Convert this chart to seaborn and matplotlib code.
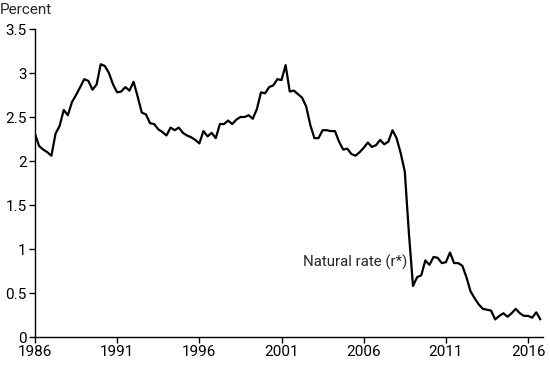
import numpy as np
import pandas as pd
import matplotlib
matplotlib.use("Agg")
import matplotlib.pyplot as plt
import seaborn as sns

# quarterly natural rate estimates, 1986Q1 - 2016Q4
years = list(range(1986, 2017))
rstar = [
    2.31, 2.17, 2.13, 2.10,   # 1986
    2.06, 2.31, 2.40, 2.58,   # 1987
    2.52, 2.67, 2.75, 2.84,   # 1988
    2.93, 2.91, 2.81, 2.87,   # 1989
    3.10, 3.08, 3.00, 2.87,   # 1990
    2.78, 2.79, 2.84, 2.80,   # 1991
    2.90, 2.73, 2.55, 2.53,   # 1992
    2.43, 2.42, 2.36, 2.33,   # 1993
    2.29, 2.38, 2.35, 2.38,   # 1994
    2.32, 2.29, 2.27, 2.24,   # 1995
    2.20, 2.34, 2.28, 2.32,   # 1996
    2.26, 2.42, 2.42, 2.46,   # 1997
    2.42, 2.47, 2.50, 2.50,   # 1998
    2.52, 2.48, 2.59, 2.78,   # 1999
    2.77, 2.84, 2.86, 2.93,   # 2000
    2.92, 3.09, 2.79, 2.80,   # 2001
    2.76, 2.72, 2.62, 2.41,   # 2002
    2.26, 2.26, 2.35, 2.35,   # 2003
    2.34, 2.34, 2.22, 2.13,   # 2004
    2.14, 2.08, 2.06, 2.10,   # 2005
    2.15, 2.21, 2.16, 2.18,   # 2006
    2.24, 2.19, 2.22, 2.35,   # 2007
    2.26, 2.09, 1.88, 1.18,   # 2008
    0.58, 0.68, 0.70, 0.87,   # 2009
    0.82, 0.91, 0.90, 0.84,   # 2010
    0.85, 0.96, 0.84, 0.84,   # 2011
    0.81, 0.68, 0.52, 0.44,   # 2012
    0.37, 0.32, 0.31, 0.30,   # 2013
    0.20, 0.24, 0.27, 0.23,   # 2014
    0.27, 0.32, 0.27, 0.24,   # 2015
    0.24, 0.22, 0.28, 0.20,   # 2016
]
quarters = [y + q / 4 for y in years for q in range(4)]
xticks = [1986, 1991, 1996, 2001, 2006, 2011, 2016]
yticks = [0, 0.5, 1, 1.5, 2, 2.5, 3, 3.5]
ytick_labels = ["0", "0.5", "1", "1.5", "2", "2.5", "3", "3.5"]

df = pd.DataFrame({"date": quarters, "rate": rstar})

sns.set_style("ticks")
plt.rcParams["font.family"] = ["Roboto", "DejaVu Sans"]

fig = plt.figure(figsize=(5.5, 3.65), dpi=100)
ax = fig.add_axes([0.0636, 0.0767, 0.9234, 0.8438])

sns.lineplot(data=df, x="date", y="rate", color="black", linewidth=1.6, ax=ax)

ax.set_xlim(1986, 2016.9)
ax.set_ylim(0, 3.5)
ax.set_xticks(xticks)
ax.set_xticklabels([str(x) for x in xticks], fontsize=11)
ax.set_yticks(yticks)
ax.set_yticklabels(ytick_labels, fontsize=11)
ax.set_xlabel("")
ax.set_ylabel("")
ax.tick_params(length=4, width=1, color="black", labelcolor="black", pad=2)
sns.despine(ax=ax)
for s in ["left", "bottom"]:
    ax.spines[s].set_color("black")
    ax.spines[s].set_linewidth(1)

fig.text(0.0, 0.972, "Percent", fontsize=11, va="center", ha="left")
ax.text(2002.3, 0.85, "Natural rate (r*)", fontsize=10.8, va="center", ha="left")

fig.savefig("out.png", dpi=100)
